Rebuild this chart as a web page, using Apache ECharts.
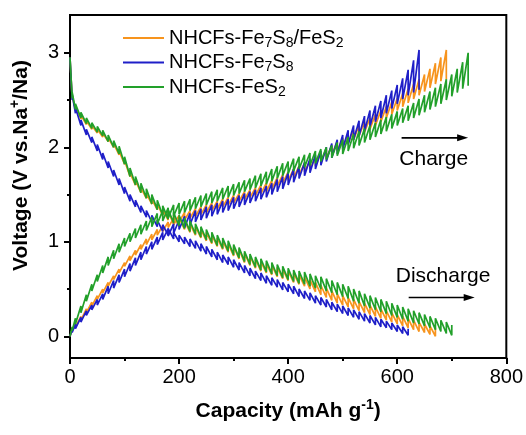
<!DOCTYPE html>
<html>
<head>
<meta charset="utf-8">
<script src="https://cdn.jsdelivr.net/npm/echarts@6/dist/echarts.min.js"></script>
<style>
  html, body { margin: 0; padding: 0; background: #fff; }
  #chart { width: 526px; height: 435px; }
</style>
</head>
<body>
<div id="chart"></div>
<script>
// Capacity (mAh g-1) reached at the end of each GITT current pulse
const pulseCapacity = [0, 4, 10, 20, 30, 40, 50, 60, 70, 80, 90, 100, 110, 120, 130, 140, 150, 160, 170, 180,
  190, 200, 210, 220, 230, 240, 250, 260, 270, 280, 290, 300, 310, 320, 330, 340, 350, 360, 370, 380,
  390, 400, 410, 420, 430, 440, 450, 460, 470, 480, 490, 500, 510, 520, 530, 540, 550, 560, 570, 580,
  590, 600, 610, 620, 630, 640, 650, 660, 670, 680, 690, 700, 710, 720, 730, 740];

// NHCFs-Fe7S8/FeS2 : voltage at pulse end / after relaxation
const compositeDischargeEnd = [2.95, 2.51, 2.39, 2.30, 2.24, 2.19, 2.15, 2.11, 2.06, 2.00, 1.92, 1.82, 1.69, 1.60, 1.52, 1.46, 1.40, 1.34, 1.28, 1.23,
  1.19, 1.16, 1.13, 1.10, 1.07, 1.04, 1.01, 0.98, 0.95, 0.92, 0.89, 0.85, 0.82, 0.78, 0.75, 0.72, 0.69, 0.67, 0.65, 0.63,
  0.61, 0.59, 0.57, 0.55, 0.53, 0.50, 0.47, 0.44, 0.41, 0.38, 0.35, 0.33, 0.31, 0.29, 0.27, 0.25, 0.23, 0.21, 0.19, 0.17,
  0.15, 0.13, 0.11, 0.09, 0.07, 0.05, 0.04, 0.02, 0.00];
const compositeDischargeRest = [2.95, 2.55, 2.43, 2.34, 2.28, 2.23, 2.19, 2.15, 2.10, 2.04, 1.96, 1.86, 1.73, 1.65, 1.57, 1.51, 1.45, 1.40, 1.34, 1.32,
  1.28, 1.25, 1.22, 1.19, 1.16, 1.13, 1.10, 1.07, 1.04, 1.01, 0.98, 0.95, 0.92, 0.88, 0.85, 0.82, 0.79, 0.77, 0.75, 0.73,
  0.71, 0.69, 0.67, 0.65, 0.63, 0.60, 0.57, 0.54, 0.51, 0.48, 0.45, 0.43, 0.41, 0.39, 0.37, 0.35, 0.33, 0.31, 0.29, 0.27,
  0.25, 0.23, 0.21, 0.19, 0.17, 0.15, 0.13, 0.11, 0.09];
const compositeChargeEnd = [0.00, 0.07, 0.13, 0.21, 0.29, 0.36, 0.43, 0.50, 0.57, 0.64, 0.71, 0.78, 0.85, 0.91, 0.97, 1.03, 1.08, 1.13, 1.17, 1.21,
  1.25, 1.28, 1.31, 1.33, 1.35, 1.37, 1.39, 1.41, 1.43, 1.45, 1.47, 1.49, 1.51, 1.53, 1.55, 1.57, 1.60, 1.62, 1.65, 1.68,
  1.71, 1.74, 1.77, 1.80, 1.83, 1.86, 1.90, 1.94, 1.98, 2.02, 2.06, 2.10, 2.14, 2.18, 2.23, 2.27, 2.31, 2.35, 2.39, 2.43,
  2.48, 2.52, 2.57, 2.62, 2.67, 2.72, 2.77, 2.83, 2.89, 2.95, 3.03];
const compositeChargeRest = [0.00, 0.05, 0.10, 0.17, 0.25, 0.32, 0.39, 0.46, 0.53, 0.60, 0.67, 0.74, 0.80, 0.86, 0.92, 0.97, 1.02, 1.07, 1.11, 1.15,
  1.18, 1.21, 1.23, 1.25, 1.27, 1.29, 1.31, 1.33, 1.35, 1.37, 1.39, 1.41, 1.43, 1.45, 1.47, 1.49, 1.51, 1.53, 1.56, 1.59,
  1.62, 1.65, 1.68, 1.71, 1.74, 1.77, 1.80, 1.84, 1.88, 1.92, 1.96, 2.00, 2.04, 2.08, 2.12, 2.16, 2.19, 2.23, 2.27, 2.31,
  2.35, 2.39, 2.43, 2.47, 2.51, 2.55, 2.59, 2.63, 2.67, 2.70, 2.72];

// NHCFs-Fe7S8
const fe7s8DischargeEnd = [2.95, 2.50, 2.36, 2.23, 2.13, 2.05, 1.96, 1.87, 1.78, 1.69, 1.60, 1.51, 1.43, 1.37, 1.31, 1.26, 1.21, 1.16, 1.11, 1.07,
  1.03, 1.00, 0.98, 0.95, 0.93, 0.90, 0.87, 0.84, 0.81, 0.78, 0.76, 0.73, 0.70, 0.67, 0.64, 0.61, 0.59, 0.56, 0.54, 0.52,
  0.49, 0.47, 0.45, 0.42, 0.40, 0.38, 0.35, 0.33, 0.31, 0.28, 0.26, 0.24, 0.22, 0.20, 0.18, 0.16, 0.14, 0.12, 0.10, 0.09,
  0.07, 0.05, 0.03, 0.01];
const fe7s8DischargeRest = [2.95, 2.56, 2.42, 2.29, 2.19, 2.11, 2.03, 1.94, 1.85, 1.76, 1.67, 1.58, 1.50, 1.44, 1.38, 1.33, 1.28, 1.23, 1.18, 1.14,
  1.10, 1.07, 1.05, 1.03, 1.01, 0.98, 0.95, 0.92, 0.89, 0.86, 0.84, 0.81, 0.78, 0.75, 0.72, 0.69, 0.67, 0.64, 0.62, 0.60,
  0.57, 0.55, 0.53, 0.50, 0.48, 0.46, 0.43, 0.41, 0.39, 0.36, 0.34, 0.32, 0.30, 0.28, 0.26, 0.24, 0.22, 0.20, 0.18, 0.16,
  0.14, 0.12, 0.10, 0.08];
const fe7s8ChargeEnd = [0.00, 0.07, 0.13, 0.20, 0.27, 0.33, 0.39, 0.45, 0.53, 0.59, 0.65, 0.71, 0.77, 0.83, 0.89, 0.95, 1.00, 1.05, 1.10, 1.14,
  1.19, 1.23, 1.27, 1.30, 1.33, 1.35, 1.37, 1.39, 1.41, 1.43, 1.45, 1.47, 1.49, 1.51, 1.53, 1.55, 1.57, 1.59, 1.62, 1.66,
  1.69, 1.73, 1.77, 1.80, 1.84, 1.88, 1.92, 1.96, 2.00, 2.04, 2.08, 2.13, 2.18, 2.23, 2.28, 2.33, 2.39, 2.44, 2.49, 2.55,
  2.60, 2.66, 2.73, 2.82, 2.92, 3.03];
const fe7s8ChargeRest = [0.00, 0.04, 0.08, 0.15, 0.22, 0.28, 0.33, 0.39, 0.45, 0.51, 0.57, 0.63, 0.69, 0.75, 0.81, 0.87, 0.92, 0.97, 1.02, 1.06,
  1.09, 1.13, 1.15, 1.18, 1.21, 1.23, 1.25, 1.27, 1.29, 1.31, 1.33, 1.35, 1.37, 1.39, 1.41, 1.43, 1.45, 1.47, 1.50, 1.53,
  1.56, 1.60, 1.63, 1.67, 1.70, 1.73, 1.77, 1.81, 1.85, 1.89, 1.93, 1.98, 2.03, 2.08, 2.12, 2.17, 2.22, 2.27, 2.31, 2.36,
  2.41, 2.46, 2.51, 2.55, 2.58, 2.61];

// NHCFs-FeS2
const fes2DischargeEnd = [2.95, 2.52, 2.40, 2.31, 2.25, 2.20, 2.16, 2.12, 2.06, 2.00, 1.93, 1.82, 1.69, 1.60, 1.52, 1.46, 1.40, 1.34, 1.28, 1.24,
  1.20, 1.17, 1.14, 1.11, 1.08, 1.05, 1.02, 0.99, 0.96, 0.93, 0.90, 0.86, 0.83, 0.79, 0.76, 0.73, 0.70, 0.68, 0.66, 0.64,
  0.62, 0.60, 0.58, 0.56, 0.55, 0.53, 0.51, 0.50, 0.48, 0.46, 0.44, 0.42, 0.40, 0.37, 0.35, 0.32, 0.30, 0.28, 0.26, 0.24,
  0.22, 0.20, 0.18, 0.16, 0.14, 0.13, 0.11, 0.09, 0.07, 0.05, 0.03, 0.01];
const fes2DischargeRest = [2.95, 2.58, 2.46, 2.37, 2.31, 2.26, 2.22, 2.18, 2.13, 2.07, 2.01, 1.90, 1.78, 1.69, 1.62, 1.56, 1.50, 1.44, 1.38, 1.34,
  1.31, 1.28, 1.25, 1.22, 1.19, 1.16, 1.13, 1.10, 1.07, 1.04, 1.01, 0.97, 0.94, 0.90, 0.87, 0.84, 0.82, 0.80, 0.78, 0.76,
  0.74, 0.72, 0.70, 0.69, 0.68, 0.66, 0.64, 0.63, 0.61, 0.59, 0.57, 0.55, 0.53, 0.50, 0.48, 0.45, 0.43, 0.41, 0.39, 0.37,
  0.35, 0.33, 0.31, 0.29, 0.27, 0.25, 0.23, 0.21, 0.19, 0.17, 0.15, 0.12];
const fes2ChargeEnd = [0.00, 0.10, 0.19, 0.32, 0.44, 0.55, 0.65, 0.75, 0.84, 0.91, 0.98, 1.04, 1.09, 1.14, 1.18, 1.22, 1.26, 1.30, 1.33, 1.36,
  1.39, 1.41, 1.43, 1.45, 1.47, 1.49, 1.51, 1.53, 1.55, 1.57, 1.59, 1.61, 1.63, 1.65, 1.67, 1.70, 1.72, 1.74, 1.77, 1.80,
  1.83, 1.85, 1.88, 1.90, 1.92, 1.94, 1.96, 1.98, 2.00, 2.02, 2.05, 2.08, 2.11, 2.14, 2.17, 2.20, 2.23, 2.26, 2.29, 2.32,
  2.35, 2.38, 2.41, 2.44, 2.47, 2.51, 2.55, 2.59, 2.63, 2.67, 2.72, 2.77, 2.83, 2.90, 3.00];
const fes2ChargeRest = [0.00, 0.06, 0.13, 0.25, 0.37, 0.48, 0.58, 0.67, 0.75, 0.82, 0.89, 0.95, 1.00, 1.04, 1.08, 1.12, 1.16, 1.19, 1.22, 1.25,
  1.27, 1.29, 1.31, 1.33, 1.35, 1.37, 1.39, 1.41, 1.43, 1.45, 1.47, 1.49, 1.51, 1.53, 1.55, 1.57, 1.59, 1.61, 1.64, 1.67,
  1.70, 1.72, 1.75, 1.77, 1.79, 1.81, 1.83, 1.85, 1.87, 1.89, 1.91, 1.93, 1.96, 1.99, 2.02, 2.05, 2.08, 2.11, 2.14, 2.17,
  2.20, 2.23, 2.26, 2.28, 2.31, 2.34, 2.37, 2.40, 2.43, 2.46, 2.50, 2.54, 2.58, 2.62, 2.65];

const seriesNames = ['NHCFs-Fe7S8/FeS2', 'NHCFs-Fe7S8', 'NHCFs-FeS2'];
const seriesLabels = ['NHCFs-Fe{s|7}S{s|8}/FeS{s|2}', 'NHCFs-Fe{s|7}S{s|8}', 'NHCFs-FeS{s|2}'];
const seriesColors = ['#F7941D', '#1F1FC8', '#22A02A'];

const xTicks = [0, 200, 400, 600, 800];
const yTicks = [0, 1, 2, 3];
const yMinorTicks = [0.5, 1.5, 2.5];

// Each pulse: ramp to the polarised voltage, then a vertical step to the relaxed voltage
function gittTrace(endV, restV) {
  const n = Math.min(endV.length, restV.length);
  const pts = [[pulseCapacity[0], restV[0]]];
  for (let i = 1; i < n; i++) {
    pts.push([pulseCapacity[i], endV[i]]);
    pts.push([pulseCapacity[i], restV[i]]);
  }
  return pts;
}

const traces = [
  [compositeDischargeEnd, compositeDischargeRest, compositeChargeEnd, compositeChargeRest],
  [fe7s8DischargeEnd, fe7s8DischargeRest, fe7s8ChargeEnd, fe7s8ChargeRest],
  [fes2DischargeEnd, fes2DischargeRest, fes2ChargeEnd, fes2ChargeRest]
];

const FONT = 'Arial, "Liberation Sans", Helvetica, sans-serif';

const series = [];
traces.forEach((t, k) => {
  [[t[0], t[1]], [t[2], t[3]]].forEach((pair) => {
    series.push({
      name: seriesNames[k],
      type: 'line',
      data: gittTrace(pair[0], pair[1]),
      symbol: 'none',
      showSymbol: false,
      smooth: false,
      lineStyle: { color: seriesColors[k], width: 1.7 },
      itemStyle: { color: seriesColors[k] },
      z: 2 + k,
      animation: false
    });
  });
});

const chart = echarts.init(document.getElementById('chart'), null, { renderer: 'canvas' });

chart.setOption({
  backgroundColor: '#fff',
  animation: false,
  grid: {
    left: 70, right: 18, top: 15, bottom: 77,
    show: true, borderColor: '#000', borderWidth: 2, backgroundColor: 'transparent'
  },
  legend: {
    data: seriesNames,
    orient: 'vertical',
    left: 118,
    top: 21,
    icon: 'rect',
    itemWidth: 41,
    itemHeight: 2,
    itemGap: 0.5,
    formatter: (name) => seriesLabels[seriesNames.indexOf(name)],
    textStyle: {
      color: '#000',
      fontFamily: FONT,
      fontSize: 20,
      lineHeight: 24,
      rich: {
        s: { fontSize: 14, lineHeight: 14, verticalAlign: 'bottom', fontFamily: FONT, color: '#000' }
      }
    }
  },
  xAxis: {
    type: 'value',
    min: 0, max: 800, interval: 200,
    name: 'Capacity (mAh g{u|-1})',
    nameLocation: 'middle',
    nameGap: 40,
    nameTextStyle: {
      color: '#000', fontFamily: FONT, fontSize: 21, fontWeight: 'bold', lineHeight: 26,
      rich: { u: { fontSize: 14, lineHeight: 14, verticalAlign: 'top', fontWeight: 'bold', fontFamily: FONT, color: '#000' } }
    },
    axisLine: { show: true, onZero: false, lineStyle: { color: '#000', width: 2 } },
    axisTick: { show: true, length: 6, lineStyle: { color: '#000', width: 2 }, customValues: xTicks },
    minorTick: { show: true, splitNumber: 2, length: 3, lineStyle: { color: '#000', width: 2 } },
    axisLabel: { color: '#000', fontFamily: FONT, fontSize: 20, margin: 9, customValues: xTicks },
    splitLine: { show: false },
    minorSplitLine: { show: false }
  },
  yAxis: [
    {
      type: 'value',
      min: -0.23, max: 3.4,
      name: 'Voltage (V vs.Na{u|+}/Na)',
      nameLocation: 'middle',
      nameGap: 36,
      nameTextStyle: {
        color: '#000', fontFamily: FONT, fontSize: 21, fontWeight: 'bold', lineHeight: 26,
        padding: [0, 0, 0, 42],
        rich: { u: { fontSize: 14, lineHeight: 14, verticalAlign: 'top', fontWeight: 'bold', fontFamily: FONT, color: '#000' } }
      },
      axisLine: { show: true, onZero: false, lineStyle: { color: '#000', width: 2 } },
      axisTick: { show: true, length: 6, lineStyle: { color: '#000', width: 2 }, customValues: yTicks },
      axisLabel: { color: '#000', fontFamily: FONT, fontSize: 20, margin: 11, customValues: yTicks },
      splitLine: { show: false }
    },
    {
      type: 'value',
      position: 'left',
      min: -0.23, max: 3.4,
      axisLine: { show: false },
      axisTick: { show: true, length: 3, lineStyle: { color: '#000', width: 2 }, customValues: yMinorTicks },
      axisLabel: { show: false },
      splitLine: { show: false }
    }
  ],
  series: series
});

// Direction annotations placed in data coordinates
function px(x, y) { return chart.convertToPixel({ xAxisIndex: 0, yAxisIndex: 0 }, [x, y]); }

function arrow(x0, x1, v) {
  const a = px(x0, v), b = px(x1, v);
  return [
    { type: 'line', shape: { x1: a[0], y1: a[1], x2: b[0] - 8, y2: b[1] }, style: { stroke: '#000', lineWidth: 1.6 }, z: 10 },
    { type: 'polygon', shape: { points: [[b[0], b[1]], [b[0] - 11, b[1] - 3.5], [b[0] - 11, b[1] + 3.5]] }, style: { fill: '#000' }, z: 10 }
  ];
}

function label(text, x, v) {
  const p = px(x, v);
  return { type: 'text', x: p[0], y: p[1], style: { text: text, font: '21px ' + FONT, fill: '#000', textAlign: 'center', textVerticalAlign: 'middle' }, z: 10 };
}

chart.setOption({
  graphic: [
    ...arrow(608, 730, 2.10),
    label('Charge', 667, 1.87),
    ...arrow(621, 742, 0.41),
    label('Discharge', 684, 0.64)
  ]
});
</script>
</body>
</html>
